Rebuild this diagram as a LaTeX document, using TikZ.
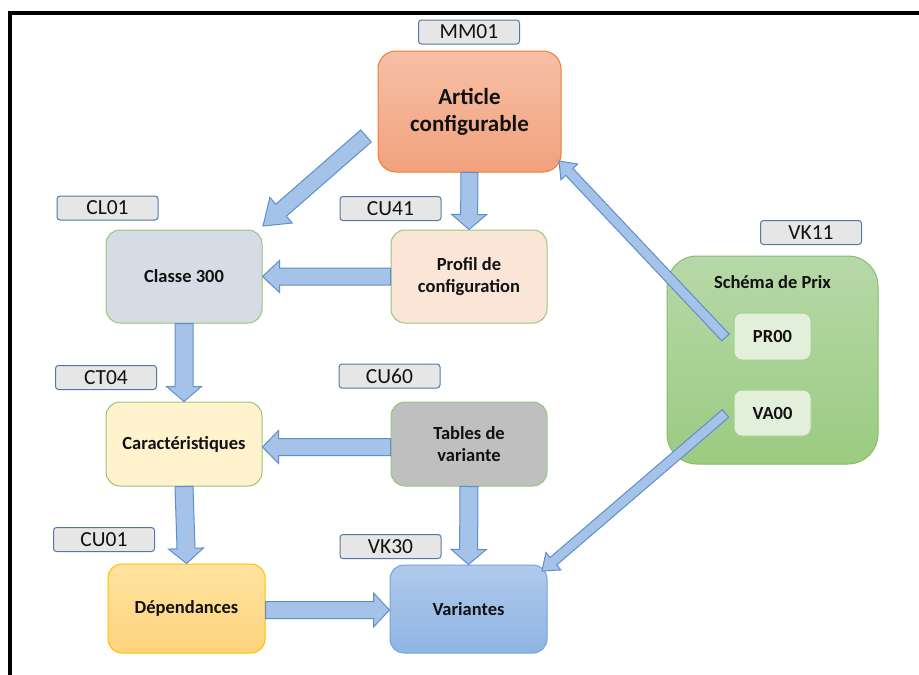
\documentclass[tikz,border=0pt]{standalone}
\usepackage{fontspec}
\setmainfont{Carlito}
\usetikzlibrary{calc}
\definecolor{tagfill}{HTML}{E6E6E6}
\definecolor{tagdraw}{HTML}{5279A6}
\definecolor{grn}{HTML}{97C777}
\definecolor{arrfill}{HTML}{A5C3E9}
\definecolor{arrdraw}{HTML}{5F8FCB}
\definecolor{txt}{HTML}{111111}
\definecolor{artdraw}{HTML}{ED7D31}
\definecolor{arttop}{HTML}{F6C0A6}
\definecolor{artbot}{HTML}{F2A17D}
\definecolor{clsfill}{HTML}{D6DCE5}
\definecolor{prffill}{HTML}{FBE5D6}
\definecolor{carfill}{HTML}{FFF2CC}
\definecolor{tabfill}{HTML}{BFBFBF}
\definecolor{depdraw}{HTML}{FFC000}
\definecolor{deptop}{HTML}{FFE3A0}
\definecolor{depbot}{HTML}{FFD37C}
\definecolor{vardraw}{HTML}{75A3DA}
\definecolor{vartop}{HTML}{AFCAEC}
\definecolor{varbot}{HTML}{8FB4E3}
\definecolor{schdraw}{HTML}{86BF66}
\definecolor{schtop}{HTML}{B7D8A9}
\definecolor{schbot}{HTML}{9BCB80}
\definecolor{smfill}{HTML}{E2EFDA}
\definecolor{smdraw}{HTML}{A9D18E}
\tikzset{
  tagbox/.style={draw=tagdraw, fill=tagfill, line width=1pt, rounded corners=3pt,
    minimum width=101pt, minimum height=24pt, inner sep=0pt,
    font=\fontsize{21.5}{24}\selectfont, text=txt},
  mainbox/.style={line width=1pt, rounded corners=14pt, inner sep=0pt, align=center,
    font=\fontsize{18.5}{22.5}\selectfont\bfseries, text=txt},
  smallbox/.style={draw=smdraw, fill=smfill, line width=1pt, rounded corners=8pt,
    minimum width=77pt, minimum height=47pt, inner sep=0pt,
    font=\fontsize{18.5}{22}\selectfont\bfseries, text=txt},
  blockarrow/.style={draw=arrdraw, fill=arrfill, line width=1pt, line join=miter},
}
\newcommand\blockarr[5]{%
  \coordinate (ba) at (#1); \coordinate (bb) at (#2);
  \coordinate (bh) at ($(bb)!#5!(ba)$);
  \draw[blockarrow] ($(ba)!#3!90:(bb)$) -- ($(bh)!#3!90:(bb)$) -- ($(bh)!#4!90:(bb)$)
    -- (bb) -- ($(bh)!#4!-90:(bb)$) -- ($(bh)!#3!-90:(bb)$) -- ($(ba)!#3!-90:(bb)$) -- cycle;}
\begin{document}
\begin{tikzpicture}[x=1pt, y=-1pt]
\useasboundingbox (0,0) rectangle (919,675);
\fill[white] (0,0) rectangle (919,675);
% frame
\draw[line width=4pt, black] (9.8,680) -- (9.8,13) -- (925,13);

% tags
\node[tagbox] (mm01) at (469,32) {MM01};
\node[tagbox] (cl01) at (107.5,208) {CL01};
\node[tagbox] (cu41) at (390.5,208.5) {CU41};
\node[tagbox] (ct04) at (106,377.5) {CT04};
\node[tagbox] (cu60) at (389.5,376) {CU60};
\node[tagbox] (cu01) at (104,539.5) {CU01};
\node[tagbox] (vk30) at (390.5,546.5) {VK30};
\node[tagbox] (vk11) at (811,232.5) {VK11};

% main boxes
\node[mainbox, draw=artdraw, top color=arttop, bottom color=artbot,
  rounded corners=18pt, minimum width=183pt, minimum height=121pt,
  font=\fontsize{23}{27}\selectfont\bfseries] (article) at (469.5,111.5) {Article\\configurable};
\node[mainbox, draw=grn, fill=clsfill, minimum width=156pt, minimum height=93pt] (classe) at (184,276.5) {Classe 300};
\node[mainbox, draw=grn, fill=prffill, minimum width=156pt, minimum height=93pt] (profil) at (469,276.5) {Profil de\\configuration};
\node[mainbox, draw=grn, fill=carfill, minimum width=156pt, minimum height=84pt] (caract) at (184,444) {Caractéristiques};
\node[mainbox, draw=grn, fill=tabfill, minimum width=156pt, minimum height=84pt] (tables) at (469,444) {Tables de\\variante};
\node[mainbox, draw=depdraw, top color=deptop, bottom color=depbot, minimum width=157pt, minimum height=89pt] (dep) at (186.5,608.5) {Dépendances};
\node[mainbox, draw=vardraw, top color=vartop, bottom color=varbot, minimum width=157pt, minimum height=88pt] (variantes) at (468.5,609) {Variantes};

% schema de prix
\node[mainbox, draw=schdraw, top color=schtop, bottom color=schbot, rounded corners=30pt, minimum width=211pt, minimum height=208pt] (schema) at (772.5,360) {};
\node[font=\fontsize{18.5}{22}\selectfont\bfseries, text=txt, inner sep=0pt] (schematitle) at (772.5,282) {Schéma de Prix};
\node[smallbox] (pr00) at (772.5,336.5) {PR00};
\node[smallbox, minimum height=46pt] (va00) at (772.5,413) {VA00};

% connector end points
\coordinate (a1tail) at (366,136);
\coordinate (a1tip) at (263,226);
\coordinate (a9tail) at (725.5,337.5);
\coordinate (a9tip) at (559,161);
\coordinate (a10tail) at (725.5,413.5);
\coordinate (a10tip) at (542,571);

% block arrows
\blockarr{a1tail}{a1tip}{8pt}{17pt}{24pt}
\blockarr{article.south}{profil.north}{8.5pt}{17.5pt}{15pt}
\blockarr{profil.west}{classe.east}{8.5pt}{16pt}{17pt}
\blockarr{$(tables.west)+(0,3)$}{$(caract.east)+(0,3)$}{8.5pt}{16.5pt}{16pt}
\blockarr{classe.south}{caract.north}{9pt}{17.5pt}{15pt}
\blockarr{caract.south}{dep.north}{9pt}{17.5pt}{15pt}
\blockarr{tables.south}{variantes.north}{9pt}{17.5pt}{15pt}
\blockarr{$(dep.east)+(0,1.5)$}{$(variantes.west)+(0,1)$}{8.5pt}{17pt}{16pt}
\blockarr{a9tail}{a9tip}{5pt}{11.5pt}{15pt}
\blockarr{a10tail}{a10tip}{5pt}{11.5pt}{15pt}
\end{tikzpicture}
\end{document}
